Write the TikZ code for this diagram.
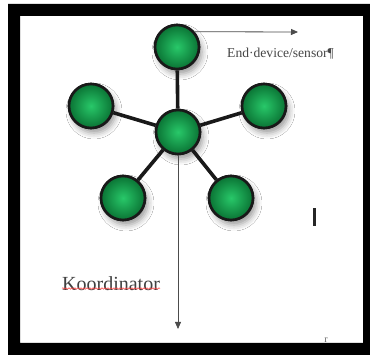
\documentclass[tikz,border=0pt]{standalone}
\usepackage{fontspec}
\setmainfont{Liberation Serif}
\usetikzlibrary{arrows.meta,shadows.blur,decorations.pathmorphing}
\definecolor{ballin}{RGB}{40,200,105}
\definecolor{ballout}{RGB}{10,115,52}
\definecolor{txtgray}{RGB}{70,70,70}
\tikzset{
  ball/.style={circle, minimum size=44pt, inner sep=0pt, draw=black!90, line width=2.6pt,
    inner color=ballin, outer color=ballout},
  shadowball/.style={ball, blur shadow={shadow xshift=3pt, shadow yshift=-5pt, shadow blur radius=6pt, shadow opacity=40}},
  spoke/.style={line width=3.6pt, black!90},
  thinarrow/.style={draw=black!70, line width=0.8pt, -{Triangle[length=7pt,width=6pt]}},
  lbl/.style={text=txtgray, inner sep=0pt}
}
\begin{document}
\begin{tikzpicture}[x=1pt,y=-1pt]
\useasboundingbox (0,0) rectangle (370,355);
\fill[white] (0,0) rectangle (370,355);
% nodes with shadows
\node[shadowball] (c) at (178,132) {};
\node[shadowball] (t) at (177,47) {};
\node[shadowball] (l) at (91,106) {};
\node[shadowball] (r) at (264,106) {};
\node[shadowball] (bl) at (123,198) {};
\node[shadowball] (br) at (231,198) {};
% spokes
\draw[spoke] (c) -- (t);
\draw[spoke] (c) -- (l);
\draw[spoke] (c) -- (r);
\draw[spoke] (c) -- (bl);
\draw[spoke] (c) -- (br);
% balls on top of spokes
\node[ball] at (c) {};
\node[ball] at (t) {};
\node[ball] at (l) {};
\node[ball] at (r) {};
\node[ball] at (bl) {};
\node[ball] at (br) {};
% arrows
\coordinate (ha) at (298,32);
\draw[thinarrow] (t.41) -- (ha);
\coordinate (va) at (178,329);
\draw[thinarrow] (c.south) -- (va);
% labels
\node[lbl, font=\fontsize{13.6}{15}\selectfont, anchor=west] (ed) at (227,54) {End·device/sensor¶};
\node[lbl, text=black!75, font=\fontsize{20}{23}\selectfont, anchor=base west] (ko) at (62,291) {Koordinator};
\draw[red!75, line width=0.5pt, decorate, decoration={snake, amplitude=0.8pt, segment length=3pt}]
  ([yshift=2.5pt]ko.base west) -- ([yshift=2.5pt]ko.base east);
% marks
\node[fill=black!85, minimum width=3pt, minimum height=18pt, inner sep=0pt] (bar) at (314,217) {};
\node[lbl, text=black!60, font=\fontsize{10}{12}\selectfont] (mk) at (326,340) {r};
% frame
\fill[black, even odd rule] (8,4) rectangle (370,355) (20,16) rectangle (363,343);
\end{tikzpicture}
\end{document}
